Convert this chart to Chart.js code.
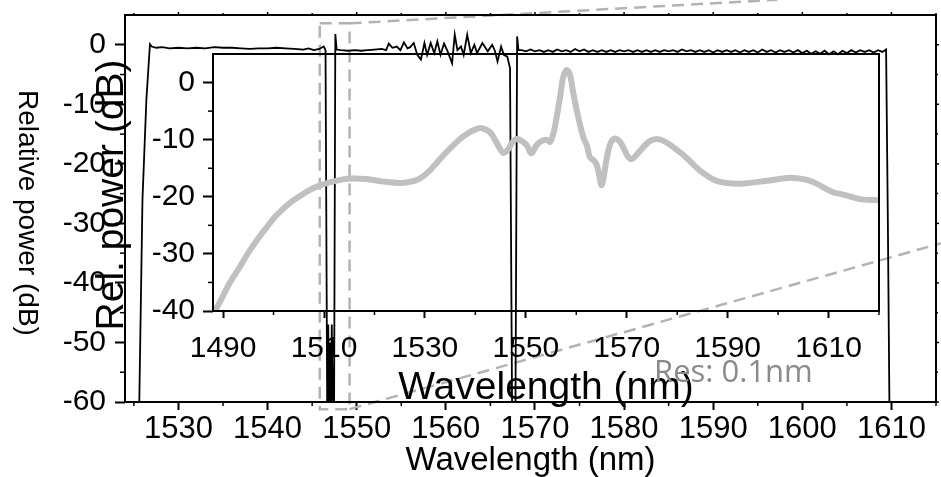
<!DOCTYPE html>
<html><head><meta charset="utf-8">
<script src="https://cdn.jsdelivr.net/npm/chart.js@4.4.1/dist/chart.umd.min.js"></script>
<style>
html,body{margin:0;padding:0;background:#fff;}
#wrap{position:relative;width:941px;height:477px;overflow:hidden;}
#wrap canvas{position:absolute;left:0;top:0;}
</style></head><body>
<div id="wrap"><canvas id="main" width="941" height="477"></canvas><canvas id="inset" width="941" height="477"></canvas></div>
<script>
// ---------- DATA ----------
// Main spectrum (black trace)
const mainWavelength = [
1525.55,1525.96,1526.4,1526.8,1527.0,1527.5,1528.2,1529.0,1530.0,1531.0,1532.0,1533.0,1534.0,1535.0,1536.0,1537.0,1538.0,1539.0,1540.0,1541.0,1542.0,1543.0,1544.0,1544.6,1545.2,1545.8,1546.3,1546.5,
1546.7,1546.8,1546.9,1547.0,1547.1,1547.2,1547.3,1547.45,1547.6,1547.75,
1548.2,1549.0,1549.8,1550.5,1551.2,1552.0,1552.8,1553.3,1553.6,1554.0,1554.5,1554.9,1555.3,1555.7,1556.0,1556.4,1556.8,1557.2,1557.6,1557.9,1558.3,1558.7,1559.05,1559.4,1559.8,1560.2,1560.7,1561.0,1561.3,1561.7,1562.0,1562.4,1562.8,1563.2,1563.5,1564.1,1564.7,1565.2,1565.5,1565.8,1566.2,1566.5,1566.9,1567.2,
1567.45,1567.8,1568.0,1568.15,
1568.5,1569,1569.5,1570,1570.5,1571,1571.5,1572,1572.5,1573,1573.5,1574,1574.5,1575,1575.5,1576,1576.5,1577,1577.5,1578,1578.5,1579,1579.5,1580,1580.5,1581,1581.5,1582,1582.5,1583,1583.5,1584,1584.5,1585,1585.5,1586,1586.5,1587,1587.5,1588,1588.5,1589,1589.5,1590,1590.5,1591,1591.5,1592,1592.5,1593,1593.5,1594,1594.5,1595,1595.5,1596,1596.5,1597,1597.5,1598,1598.5,1599,1599.5,1600,1600.5,1601,1601.5,1602,1602.5,1603,1603.5,1604,1604.5,1605,1605.5,1606,1606.5,1607,1607.5,1608,1608.5,1609,1609.4,
1609.6,1609.8
];
const mainPower = [
-65,-26,-9.2,0.1,-0.3,-0.5,-0.4,-0.6,-0.5,-0.6,-0.5,-0.6,-0.4,-0.5,-0.5,-0.6,-0.7,-0.6,-0.6,-0.5,-0.6,-0.7,-0.8,-0.6,-0.9,-0.7,-0.3,-0.9,
-65,-47,-60,-50,-63,-47,-58,-65,1.8,-0.8,
-0.9,-1.0,-0.9,-1.0,-0.9,-0.8,-0.7,-0.9,0.2,-0.5,-0.3,-0.9,0.4,-0.6,-0.4,0.3,-1.7,-2.5,0.3,-1.7,0.3,-1.4,0.6,-1.7,0.2,-1.1,-3.1,1.7,-0.9,-0.3,-1.7,1.7,-1.4,0.0,-1.4,0.3,-1.1,0.0,-1.0,-2.8,-0.3,-1.7,-2.0,-3.9,
-65,-65,1.4,-0.9,
-0.9,-1.1,-0.8,-1.1,-0.9,-1.2,-0.9,-1.2,-0.8,-1.1,-0.9,-1.2,-0.7,-1.1,-0.8,-1.2,-0.9,-1.2,-0.9,-1.2,-0.9,-1.2,-0.9,-1.1,-0.9,-1.2,-0.9,-1.2,-0.9,-1.2,-0.9,-1.2,-0.9,-1.1,-0.9,-1.2,-0.8,-1.1,-0.9,-1.2,-0.9,-1.2,-0.9,-1.3,-0.9,-1.2,-0.9,-1.2,-0.9,-1.3,-0.9,-1.2,-0.9,-1.3,-0.8,-1.2,-0.9,-1.3,-0.9,-1.2,-0.9,-1.3,-0.9,-1.4,-1.0,-1.5,-1.1,-1.5,-1.0,-1.6,-1.1,-1.6,-1.0,-1.4,-0.9,-1.3,-0.9,-1.2,-0.9,-1.3,-0.9,-1.2,-0.8,
-30,-65
];

// Inset spectrum (grey trace)
const insetWavelength = [1488.4,1489.5,1491.3,1493.3,1495.0,1496.7,1498.6,1500.2,1501.8,1503.5,1505.2,1507.2,1509.2,1511.5,1513.5,1515.5,1518.4,1521.5,1525.0,1527.0,1528.8,1530.5,1531.6,1533.5,1535.6,1537.8,1540.0,1541.3,1542.9,1544.2,1545.5,1546.5,1547.3,1548.2,1549.3,1550.2,1551.1,1552.1,1553.0,1554.1,1554.8,1555.5,1556.1,1556.8,1557.4,1558.1,1558.7,1559.4,1560.1,1561.4,1562.1,1562.7,1563.3,1564.0,1564.5,1565.0,1565.5,1566.0,1566.8,1567.7,1568.6,1569.3,1570.2,1571.0,1572.0,1573.3,1574.5,1575.9,1577.5,1579.2,1581.5,1584.5,1587.8,1592.4,1597.7,1601.0,1603.0,1606.3,1610.9,1612.3,1614.5,1616.9,1619.8];
const insetPower = [-40,-38.2,-35.1,-32.3,-29.8,-27.6,-25.4,-23.6,-22.2,-20.9,-19.9,-18.8,-18.0,-17.4,-17.0,-16.8,-16.9,-17.3,-17.6,-17.4,-16.9,-15.8,-14.8,-12.9,-11.0,-9.3,-8.2,-8.0,-8.7,-10.5,-12.3,-11.7,-10.5,-9.9,-10.3,-11.0,-12.4,-11.0,-10.3,-10.0,-10.4,-8.8,-6.1,-2.5,0.9,2.2,1.5,-1.8,-4.9,-9.6,-11.0,-13.1,-13.5,-14.3,-16.0,-18.0,-16.2,-13.4,-10.6,-9.8,-10.3,-11.3,-12.9,-13.4,-12.6,-11.3,-10.3,-9.9,-10.3,-11.3,-12.9,-15.4,-17.2,-17.7,-17.2,-16.8,-16.7,-17.2,-19.2,-19.5,-20.0,-20.5,-20.6];

// Tick values
const mainXTicks = [1530,1540,1550,1560,1570,1580,1590,1600,1610];
const mainXMinor = [1525,1535,1545,1555,1565,1575,1585,1595,1605,1615];
const mainYTicks = [0,-10,-20,-30,-40,-50,-60];
const mainYMinor = [-5,-15,-25,-35,-45,-55];
const insetXTicks = [1490,1510,1530,1550,1570,1590,1610];
const insetXMinor = [1500,1520,1540,1560,1580,1600,1620];
const insetYTicks = [0,-10,-20,-30,-40];
const insetYMinor = [-5,-15,-25,-35];

// Zoom-indicator (in main-plot data units)
const zoomBoxX = [1545.85, 1549.2];
const zoomBoxY = [3.6, -61.2];
const zoomLineTopEnd = [1597.2, 7.56];
const zoomLineBottomEnd = [1615.65, -33.3];

// ---------- DRAWING ----------
const FONT = '"Liberation Sans", Arial, Helvetica, sans-serif';
function seg(ctx, x1, y1, x2, y2){ ctx.beginPath(); ctx.moveTo(x1,y1); ctx.lineTo(x2,y2); ctx.stroke(); }

const mainDecor = {
  id: 'mainDecor',
  beforeDatasetsDraw(chart){
    const {ctx, scales:{x, y}} = chart;
    ctx.save();
    ctx.strokeStyle = '#b3b3b3';
    ctx.lineWidth = 2.5;
    ctx.setLineDash([12, 7]);
    const bx0 = x.getPixelForValue(zoomBoxX[0]), bx1 = x.getPixelForValue(zoomBoxX[1]);
    const by0 = y.getPixelForValue(zoomBoxY[0]), by1 = y.getPixelForValue(zoomBoxY[1]);
    ctx.strokeRect(bx0, by0, bx1 - bx0, by1 - by0);
    seg(ctx, bx1, by0, x.getPixelForValue(zoomLineTopEnd[0]), y.getPixelForValue(zoomLineTopEnd[1]));
    seg(ctx, bx1, by1, x.getPixelForValue(zoomLineBottomEnd[0]), y.getPixelForValue(zoomLineBottomEnd[1]));
    ctx.restore();
  },
  afterDraw(chart){
    const {ctx, chartArea:a, scales:{x, y}} = chart;
    ctx.save();
    ctx.setLineDash([]);
    ctx.strokeStyle = '#000';
    ctx.lineWidth = 2;
    ctx.strokeRect(a.left, a.top, a.right - a.left, a.bottom - a.top);
    ctx.lineWidth = 1.5;
    mainXMinor.forEach(v => { const p = x.getPixelForValue(v); seg(ctx, p, a.bottom, p, a.bottom + 4); seg(ctx, p, a.top, p, a.top - 2); });
    mainXTicks.forEach(v => { const p = x.getPixelForValue(v); seg(ctx, p, a.top, p, a.top - 3); });
    mainYMinor.forEach(v => { const p = y.getPixelForValue(v); seg(ctx, a.left - 5, p, a.left, p); seg(ctx, a.right, p, a.right + 2, p); });
    mainYTicks.forEach(v => { const p = y.getPixelForValue(v); seg(ctx, a.right, p, a.right + 3, p); });
    // left axis title (reads top to bottom)
    ctx.fillStyle = '#000';
    ctx.font = '28px ' + FONT;
    ctx.textAlign = 'center';
    ctx.textBaseline = 'middle';
    ctx.translate(27, 213);
    ctx.rotate(Math.PI / 2);
    ctx.fillText('Relative power (dB)', 0, 0);
    ctx.restore();
  }
};

const insetDecor = {
  id: 'insetDecor',
  afterDraw(chart){
    const {ctx, chartArea:a, scales:{x, y}} = chart;
    ctx.save();
    ctx.strokeStyle = '#000';
    ctx.lineWidth = 2;
    ctx.strokeRect(a.left, a.top, a.right - a.left, a.bottom - a.top);
    ctx.lineWidth = 1.5;
    insetXMinor.forEach(v => { const p = x.getPixelForValue(v); seg(ctx, p, a.bottom, p, a.bottom + 4); });
    insetYMinor.forEach(v => { const p = y.getPixelForValue(v); seg(ctx, a.left - 5, p, a.left, p); });
    ctx.fillStyle = '#000';
    ctx.font = '39px ' + FONT;
    ctx.textAlign = 'center';
    ctx.textBaseline = 'middle';
    ctx.save();
    ctx.translate(112, 195);
    ctx.rotate(-Math.PI / 2);
    ctx.fillText('Rel. power (dB)', 0, 0);
    ctx.restore();
    ctx.fillStyle = '#8a8a8a';
    ctx.font = '31px "Open Sans", ' + FONT;
    ctx.textAlign = 'left';
    ctx.textBaseline = 'alphabetic';
    ctx.fillText('Res: 0.1nm', 654, 382);
    ctx.restore();
  }
};

function setTicks(values){ return scale => { scale.ticks = values.map(v => ({value: v})); }; }
function fitWidth(w){ return s => { s.width = w; s.paddingTop = 0; s.paddingBottom = 0; }; }
function fitHeight(h){ return s => { s.height = h; s.paddingLeft = 0; s.paddingRight = 0; }; }

new Chart(document.getElementById('main'), {
  type: 'line',
  data: { datasets: [{
    data: mainWavelength.map((w, i) => ({x: w, y: mainPower[i]})),
    borderColor: '#000', borderWidth: 1.8, pointRadius: 0, tension: 0, fill: false
  }]},
  options: {
    responsive: false, animation: false, events: [],
    plugins: { legend: {display: false}, tooltip: {enabled: false} },
    layout: { padding: {top: 15, right: 5, left: 0, bottom: 0} },
    scales: {
      x: {
        type: 'linear', min: 1524, max: 1615,
        afterBuildTicks: setTicks(mainXTicks),
        afterFit: fitHeight(75),
        ticks: { callback: v => String(v), font: {family: FONT, size: 31}, color: '#000', padding: 1, maxRotation: 0, autoSkip: false },
        grid: { display: true, drawOnChartArea: false, drawTicks: true, tickLength: 8, tickWidth: 2, tickColor: '#000' },
        border: { display: false },
        title: { display: true, text: 'Wavelength (nm)', color: '#000', font: {family: FONT, size: 33, lineHeight: 1.0}, padding: {top: 0, bottom: 0} }
      },
      y: {
        type: 'linear', min: -60, max: 5,
        afterBuildTicks: setTicks(mainYTicks),
        afterFit: fitWidth(125),
        ticks: { callback: v => String(v), font: {family: FONT, size: 30}, color: '#000', padding: 9, autoSkip: false },
        grid: { display: true, drawOnChartArea: false, drawTicks: true, tickLength: 10, tickWidth: 2, tickColor: '#000' },
        border: { display: false },
        title: { display: false }
      }
    }
  },
  plugins: [mainDecor]
});

new Chart(document.getElementById('inset'), {
  type: 'line',
  data: { datasets: [{
    data: insetWavelength.map((w, i) => ({x: w, y: insetPower[i]})),
    borderColor: '#c0c0c0', borderWidth: 6, pointRadius: 0, tension: 0.35,
    borderCapStyle: 'round', borderJoinStyle: 'round', fill: false
  }]},
  options: {
    responsive: false, animation: false, events: [],
    plugins: { legend: {display: false}, tooltip: {enabled: false} },
    layout: { padding: {top: 54, right: 62, left: 0, bottom: 66} },
    scales: {
      x: {
        type: 'linear', min: 1488, max: 1620,
        afterBuildTicks: setTicks(insetXTicks),
        afterFit: fitHeight(100),
        ticks: { callback: v => String(v), font: {family: FONT, size: 30}, color: '#000', padding: 13, maxRotation: 0, autoSkip: false },
        grid: { display: true, drawOnChartArea: false, drawTicks: true, tickLength: 7, tickWidth: 2, tickColor: '#000' },
        border: { display: false },
        title: { display: true, text: 'Wavelength (nm)', color: '#000', font: {family: FONT, size: 39, lineHeight: 1.0}, padding: {top: 0, bottom: 3} }
      },
      y: {
        type: 'linear', min: -40, max: 5,
        afterBuildTicks: setTicks(insetYTicks),
        afterFit: fitWidth(213),
        ticks: { callback: v => String(v), font: {family: FONT, size: 30}, color: '#000', padding: 8, autoSkip: false },
        grid: { display: true, drawOnChartArea: false, drawTicks: true, tickLength: 10, tickWidth: 2, tickColor: '#000' },
        border: { display: false },
        title: { display: false }
      }
    }
  },
  plugins: [insetDecor]
});
</script>
</body></html>
